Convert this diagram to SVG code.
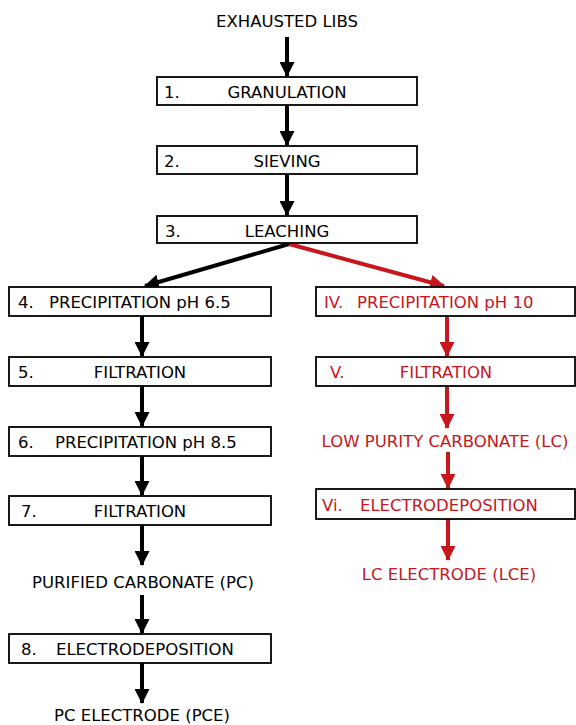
<svg xmlns="http://www.w3.org/2000/svg" width="576" height="725" viewBox="0 0 576 725">
<style>
text{font-family:"DejaVu Sans","Liberation Sans",sans-serif;font-size:16.5px;fill:#000}
.r{fill:#c8161d}
.m{text-anchor:middle}
.box{fill:#fff;stroke:#000;stroke-width:1.8}
.a{stroke:#000;stroke-width:4;fill:none}
.ar{stroke:#c8161d;stroke-width:4;fill:none}
</style>
<defs>
<marker id="hb" markerUnits="userSpaceOnUse" markerWidth="15" markerHeight="15" viewBox="0 0 15 15" refX="14" refY="7.5" orient="auto"><path d="M0,0 L15,7.5 L0,15 Z" fill="#000"/></marker>
<marker id="hr" markerUnits="userSpaceOnUse" markerWidth="15" markerHeight="15" viewBox="0 0 15 15" refX="14" refY="7.5" orient="auto"><path d="M0,0 L15,7.5 L0,15 Z" fill="#c8161d"/></marker>
</defs>
<rect width="576" height="725" fill="#fff"/>
<g id="connectors">
<line class="a" x1="287" y1="37" x2="287" y2="76" marker-end="url(#hb)"/>
<line class="a" x1="287" y1="105" x2="287" y2="145" marker-end="url(#hb)"/>
<line class="a" x1="287" y1="174" x2="287" y2="215" marker-end="url(#hb)"/>
<line class="a" x1="289" y1="244" x2="145" y2="286" marker-end="url(#hb)"/>
<line class="ar" x1="289" y1="244" x2="444" y2="286" marker-end="url(#hr)"/>
<line class="a" x1="142" y1="316" x2="142" y2="356" marker-end="url(#hb)"/>
<line class="a" x1="142" y1="386" x2="142" y2="426" marker-end="url(#hb)"/>
<line class="a" x1="142" y1="456" x2="142" y2="495" marker-end="url(#hb)"/>
<line class="a" x1="142" y1="525" x2="142" y2="565" marker-end="url(#hb)"/>
<line class="a" x1="142" y1="595" x2="142" y2="633" marker-end="url(#hb)"/>
<line class="a" x1="142" y1="663" x2="142" y2="703" marker-end="url(#hb)"/>
<line class="ar" x1="447" y1="316" x2="447" y2="356" marker-end="url(#hr)"/>
<line class="ar" x1="447" y1="386" x2="447" y2="428" marker-end="url(#hr)"/>
<line class="ar" x1="448" y1="452" x2="448" y2="488" marker-end="url(#hr)"/>
<line class="ar" x1="448" y1="519" x2="448" y2="560" marker-end="url(#hr)"/>
</g>
<g id="start"><text class="m" x="287" y="27">EXHAUSTED LIBS</text></g>
<g id="n1"><rect class="box" x="157" y="77" width="260" height="28"/><text x="164" y="98">1.</text><text class="m" x="287" y="98">GRANULATION</text></g>
<g id="n2"><rect class="box" x="157" y="146" width="260" height="28"/><text x="164" y="167">2.</text><text class="m" x="287" y="167">SIEVING</text></g>
<g id="n3"><rect class="box" x="157" y="216" width="260" height="27"/><text x="165" y="237">3.</text><text class="m" x="287" y="237">LEACHING</text></g>
<g id="n4"><rect class="box" x="9" y="287" width="262" height="29"/><text x="18" y="308">4.</text><text x="49" y="308">PRECIPITATION pH 6.5</text></g>
<g id="n5"><rect class="box" x="9" y="357" width="262" height="29"/><text x="18" y="378">5.</text><text class="m" x="140" y="378">FILTRATION</text></g>
<g id="n6"><rect class="box" x="9" y="427" width="262" height="29"/><text x="18" y="448">6.</text><text x="55" y="448">PRECIPITATION pH 8.5</text></g>
<g id="n7"><rect class="box" x="9" y="496" width="262" height="29"/><text x="21" y="517">7.</text><text class="m" x="140" y="517">FILTRATION</text></g>
<g id="pc"><text class="m" x="143" y="588">PURIFIED CARBONATE (PC)</text></g>
<g id="n8"><rect class="box" x="9" y="634" width="262" height="29"/><text x="21" y="655">8.</text><text x="56" y="655">ELECTRODEPOSITION</text></g>
<g id="pce"><text class="m" x="142" y="721">PC ELECTRODE (PCE)</text></g>
<g id="nIV"><rect class="box" x="316" y="287" width="259" height="29"/><text class="r" x="324" y="308">IV.</text><text class="r" x="357" y="308">PRECIPITATION pH 10</text></g>
<g id="nV"><rect class="box" x="316" y="357" width="259" height="29"/><text class="r" x="330" y="378">V.</text><text class="r m" x="446" y="378">FILTRATION</text></g>
<g id="lc"><text class="r m" x="445" y="447">LOW PURITY CARBONATE (LC)</text></g>
<g id="nVi"><rect class="box" x="316" y="489" width="259" height="30"/><text class="r" x="322" y="511">Vi.</text><text class="r" x="360" y="511">ELECTRODEPOSITION</text></g>
<g id="lce"><text class="r m" x="449" y="580">LC ELECTRODE (LCE)</text></g>
</svg>
